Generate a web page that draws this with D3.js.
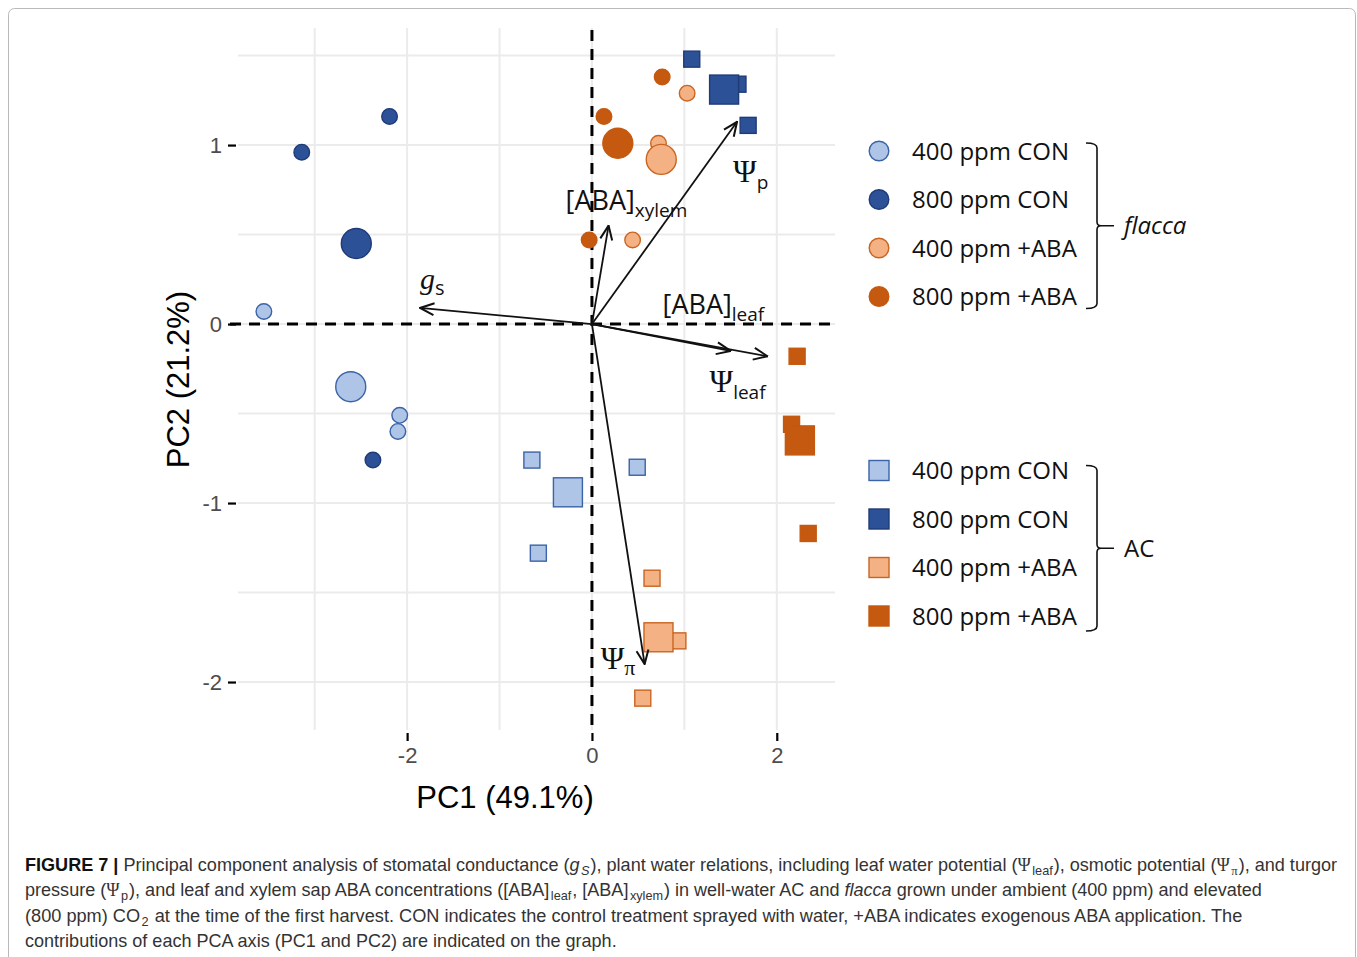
<!DOCTYPE html>
<html><head><meta charset="utf-8">
<script src="https://cdn.jsdelivr.net/npm/d3@7"></script>
<style>
body{margin:0;background:#fff;}
svg{display:block;}
</style></head>
<body>
<script>
// ---------- DATA ----------
const groups = ["400 ppm CON", "800 ppm CON", "400 ppm +ABA", "800 ppm +ABA"];
// flacca (circles)
const flaccaGroup = [0,0,0,0, 1,1,1,1, 2,2,2,2, 3,3,3,3];
const flaccaPC1   = [-3.55,-2.08,-2.10,-2.61, -2.19,-3.14,-2.37,-2.55, 1.03,0.72,0.44,0.75, 0.76,0.13,-0.03,0.28];
const flaccaPC2   = [0.07,-0.51,-0.60,-0.35, 1.16,0.96,-0.76,0.45, 1.29,1.01,0.47,0.92, 1.38,1.16,0.47,1.01];
const flaccaMean  = [0,0,0,1, 0,0,0,1, 0,0,0,1, 0,0,0,1];
// AC (squares)
const acGroup = [0,0,0,0, 1,1,1,1, 2,2,2,2, 3,3,3,3];
const acPC1   = [-0.65,0.49,-0.58,-0.26, 1.08,1.58,1.69,1.43, 0.65,0.93,0.55,0.72, 2.22,2.16,2.34,2.25];
const acPC2   = [-0.76,-0.80,-1.28,-0.94, 1.48,1.34,1.11,1.31, -1.42,-1.77,-2.09,-1.75, -0.18,-0.56,-1.17,-0.65];
const acMean  = [0,0,0,1, 0,0,0,1, 0,0,0,1, 0,0,0,1];
// loadings (arrows)
const loadingNames = ["gs", "[ABA]xylem", "Ψp", "[ABA]leaf", "Ψleaf", "Ψπ"];
const loadingPC1 = [-1.86, 0.18, 1.57, 1.50, 1.90, 0.57];
const loadingPC2 = [0.09, 0.55, 1.13, -0.15, -0.18, -1.90];
// axis ticks
const xTicks = [-2, 0, 2];
const yTicks = [1, 0, -1, -2];
const xGrid = [-3, -2, -1, 0, 1, 2];
const yGrid = [1.5, 1, 0.5, 0, -0.5, -1, -1.5, -2];
const xTitle = "PC1 (49.1%)";
const yTitle = "PC2 (21.2%)";

// ---------- STYLE ----------
const fills   = ["#afc5e7", "#2c5197", "#f4b183", "#c5590f"];
const strokes = ["#3a63a8", "#1f3b78", "#c96522", "#c5590f"];
const W = 1357, H = 957;
const svg = d3.select("body").append("svg").attr("width", W).attr("height", H);

// figure frame
svg.append("rect").attr("x", 8.5).attr("y", 8.5).attr("width", 1347).attr("height", 970)
  .attr("rx", 6).attr("fill", "none").attr("stroke", "#b9b9b9").attr("stroke-width", 1);

const x = d3.scaleLinear().domain([-3.83, 2.63]).range([238, 835]);
const y = d3.scaleLinear().domain([1.654, -2.268]).range([28, 730]);

// grid
const grid = svg.append("g");
grid.selectAll(".vg").data(xGrid).join("line")
  .attr("x1", d => x(d)).attr("x2", d => x(d)).attr("y1", y.range()[0]).attr("y2", y.range()[1])
  .attr("stroke", "#ebebeb").attr("stroke-width", 2);
grid.selectAll(".hg").data(yGrid).join("line")
  .attr("y1", d => y(d)).attr("y2", d => y(d)).attr("x1", x.range()[0]).attr("x2", x.range()[1])
  .attr("stroke", "#ebebeb").attr("stroke-width", 2);

// axes
const fmt = d => String(d);
const yAxis = d3.axisLeft(y).tickValues(yTicks).tickSize(8).tickPadding(6).tickFormat(fmt);
const gy = svg.append("g").attr("transform", `translate(${x.range()[0]-2},0)`).call(yAxis);
const xAxis = d3.axisBottom(x).tickValues(xTicks).tickSize(8).tickPadding(6).tickFormat(fmt);
const gx = svg.append("g").attr("transform", `translate(0,${y.range()[1]+3})`).call(xAxis);
[gx, gy].forEach(g => {
  g.select(".domain").remove();
  g.selectAll(".tick line").attr("stroke", "#000").attr("stroke-width", 2.2);
  g.selectAll(".tick text").attr("fill", "#4d4d4d").style("font-family", "Liberation Sans, Arial, sans-serif").style("font-size", "22px");
});

// axis titles
svg.append("text").attr("x", 505).attr("y", 808)
  .attr("text-anchor", "middle").style("font-family", "Liberation Sans, Arial, sans-serif").style("font-size", "31px").text(xTitle);
svg.append("text").attr("transform", `translate(189,${y(-0.31)}) rotate(-90)`)
  .attr("text-anchor", "middle").style("font-family", "Liberation Sans, Arial, sans-serif").style("font-size", "31px").text(yTitle);

// arrow labels (offset from tip in px) - drawn below dashed lines
const sans = "Open Sans, Noto Sans, sans-serif";
const serif = "Liberation Serif, DejaVu Serif, serif";
const labelSpec = {
  "gs":         {dx: 0,   dy: -19, parts: [["g", serif, 30, 0, "italic"], ["s", sans, 20, 6]]},
  "[ABA]xylem": {dx: -43, dy: -16, parts: [["[ABA]", sans, 27, 0], ["xylem", sans, 19, 7]]},
  "Ψp":         {dx: -4,  dy: 60,  parts: [["Ψ", serif, 32, 0], ["p", sans, 19, 7]]},
  "[ABA]leaf":  {dx: -68, dy: -37, parts: [["[ABA]", sans, 27, 0], ["leaf", sans, 19, 7]]},
  "Ψleaf":      {dx: -58, dy: 36,  parts: [["Ψ", serif, 32, 0], ["leaf", sans, 19, 7]]},
  "Ψπ":         {dx: -44, dy: 5,   parts: [["Ψ", serif, 32, 0], ["π", serif, 22, 6]]}
};
loadingNames.forEach((n, i) => {
  const s = labelSpec[n];
  const t = svg.append("text").attr("x", x(loadingPC1[i]) + s.dx).attr("y", y(loadingPC2[i]) + s.dy).attr("fill", "#111");
  let prev = 0;
  s.parts.forEach(p => {
    const ts = t.append("tspan").text(p[0]).style("font-family", p[1]).style("font-size", p[2] + "px")
      .attr("dy", p[3] - prev);
    if (p[4]) ts.style("font-style", p[4]);
    prev = p[3];
  });
});

// dashed reference lines
svg.append("line").attr("x1", 230).attr("x2", 832).attr("y1", y(0)).attr("y2", y(0))
  .attr("stroke", "#000").attr("stroke-width", 3).attr("stroke-dasharray", "11,8");
svg.append("line").attr("x1", x(0)).attr("x2", x(0)).attr("y1", 30).attr("y2", 732)
  .attr("stroke", "#000").attr("stroke-width", 3).attr("stroke-dasharray", "11,8");

// points
function pts(pc1, pc2, grp, mean) {
  return pc1.map((v, i) => ({x: v, y: pc2[i], g: grp[i], m: mean[i]}))
    .sort((a, b) => a.m - b.m);
}
const circ = pts(flaccaPC1, flaccaPC2, flaccaGroup, flaccaMean);
const sq = pts(acPC1, acPC2, acGroup, acMean);
const pg = svg.append("g");
pg.selectAll("circle").data(circ).join("circle")
  .attr("cx", d => x(d.x)).attr("cy", d => y(d.y)).attr("r", d => d.m ? 15 : 7.8)
  .attr("fill", d => fills[d.g]).attr("stroke", d => strokes[d.g]).attr("stroke-width", 1.4);
pg.selectAll("rect").data(sq).join("rect")
  .attr("x", d => x(d.x) - (d.m ? 14.5 : 8)).attr("y", d => y(d.y) - (d.m ? 14.5 : 8))
  .attr("width", d => d.m ? 29 : 16).attr("height", d => d.m ? 29 : 16)
  .attr("fill", d => fills[d.g]).attr("stroke", d => strokes[d.g]).attr("stroke-width", 1.4);

// arrows
const defs = svg.append("defs");
defs.append("marker").attr("id", "ah").attr("viewBox", "0 0 16 16").attr("refX", 15).attr("refY", 8)
  .attr("markerWidth", 16).attr("markerHeight", 16).attr("markerUnits", "userSpaceOnUse").attr("orient", "auto")
  .append("path").attr("d", "M1,2 L15,8 L1,14").attr("fill", "none").attr("stroke", "#111").attr("stroke-width", 2);
const ag = svg.append("g");
ag.selectAll("line").data(loadingNames.map((n, i) => ({n, px: loadingPC1[i], py: loadingPC2[i]}))).join("line")
  .attr("x1", x(0)).attr("y1", y(0)).attr("x2", d => x(d.px)).attr("y2", d => y(d.py))
  .attr("stroke", "#111").attr("stroke-width", 1.8).attr("marker-end", "url(#ah)");

// legends
const legendFont = "Open Sans, Noto Sans, sans-serif";
function legend(y0, shape, title, italic, bOff) {
  const lg = svg.append("g");
  groups.forEach((gname, i) => {
    const cy = y0 + i * 48.5;
    if (shape === "circle") {
      lg.append("circle").attr("cx", 879).attr("cy", cy).attr("r", 9.8)
        .attr("fill", fills[i]).attr("stroke", strokes[i]).attr("stroke-width", 1.4);
    } else {
      lg.append("rect").attr("x", 869).attr("y", cy - 10).attr("width", 20).attr("height", 20)
        .attr("fill", fills[i]).attr("stroke", strokes[i]).attr("stroke-width", 1.4);
    }
    lg.append("text").attr("x", 912).attr("y", cy + 8.5).style("font-family", legendFont).style("font-size", "24px")
      .attr("fill", "#111").text(gname);
  });
  const top = y0 - 8 + bOff, bot = y0 + 3 * 48.5 + 12 + bOff, mid = (top + bot) / 2;
  lg.append("path").attr("d", `M1086,${top} Q1097,${top} 1097,${top+5} L1097,${mid-4} Q1097,${mid} 1101,${mid} L1114,${mid} M1101,${mid} Q1097,${mid} 1097,${mid+4} L1097,${bot-5} Q1097,${bot} 1086,${bot}`)
    .attr("fill", "none").attr("stroke", "#111").attr("stroke-width", 1.6);
  lg.append("text").attr("x", 1124).attr("y", mid + 8.5).style("font-family", legendFont).style("font-size", "24px")
    .style("font-style", italic ? "italic" : "normal").attr("fill", "#111").text(title);
}
legend(151, "circle", "flacca", true, 0);
legend(470.5, "square", "AC", false, 3);

// caption
const capFont = "Liberation Sans Narrow, Arial Narrow, Liberation Sans, sans-serif";
const capLines = [
  [["FIGURE 7 | ", "b"], ["Principal component analysis of stomatal conductance ("], ["g", "i"], ["S", "sub-i"], ["), plant water relations, including leaf water potential ("], ["Ψ", "serif"], ["leaf", "sub"], ["), osmotic potential ("], ["Ψ", "serif"], ["π", "sub-serif"], ["), and turgor"]],
  [["pressure ("], ["Ψ", "serif"], ["p", "sub"], ["), and leaf and xylem sap ABA concentrations ([ABA]"], ["leaf", "sub"], [", [ABA]"], ["xylem", "sub"], [") in well-water AC and "], ["flacca", "i"], [" grown under ambient (400 ppm) and elevated"]],
  [["(800 ppm) CO"], ["2", "sub"], [" at the time of the first harvest. CON indicates the control treatment sprayed with water, +ABA indicates exogenous ABA application. The"]],
  [["contributions of each PCA axis (PC1 and PC2) are indicated on the graph."]]
];
const capWidths = [1313, 1238, 1218, 592];
capLines.forEach((line, li) => {
  const t = svg.append("text").attr("x", 0).attr("y", 0)
    .style("font-family", capFont).style("font-size", "18.5px").attr("fill", "#333");
  let sub = false;
  line.forEach(([txt, st]) => {
    const ts = t.append("tspan").text(txt);
    const isSub = st && st.startsWith("sub");
    if (st === "b") ts.style("font-weight", "bold").attr("fill", "#111");
    if (st === "i" || st === "sub-i") ts.style("font-style", "italic");
    if (st === "serif" || st === "sub-serif") ts.style("font-family", serif);
    if (isSub) ts.style("font-size", "13px").attr("dx", 1.5);
    if (isSub && !sub) ts.attr("dy", 4);
    if (!isSub && sub) ts.attr("dy", -4).attr("dx", 1);
    sub = isSub;
  });
  const w = t.node().getBBox().width;
  t.attr("transform", `translate(25,${871 + li * 25.3}) scale(${capWidths[li] / w},1)`);
});
</script>
</body></html>
